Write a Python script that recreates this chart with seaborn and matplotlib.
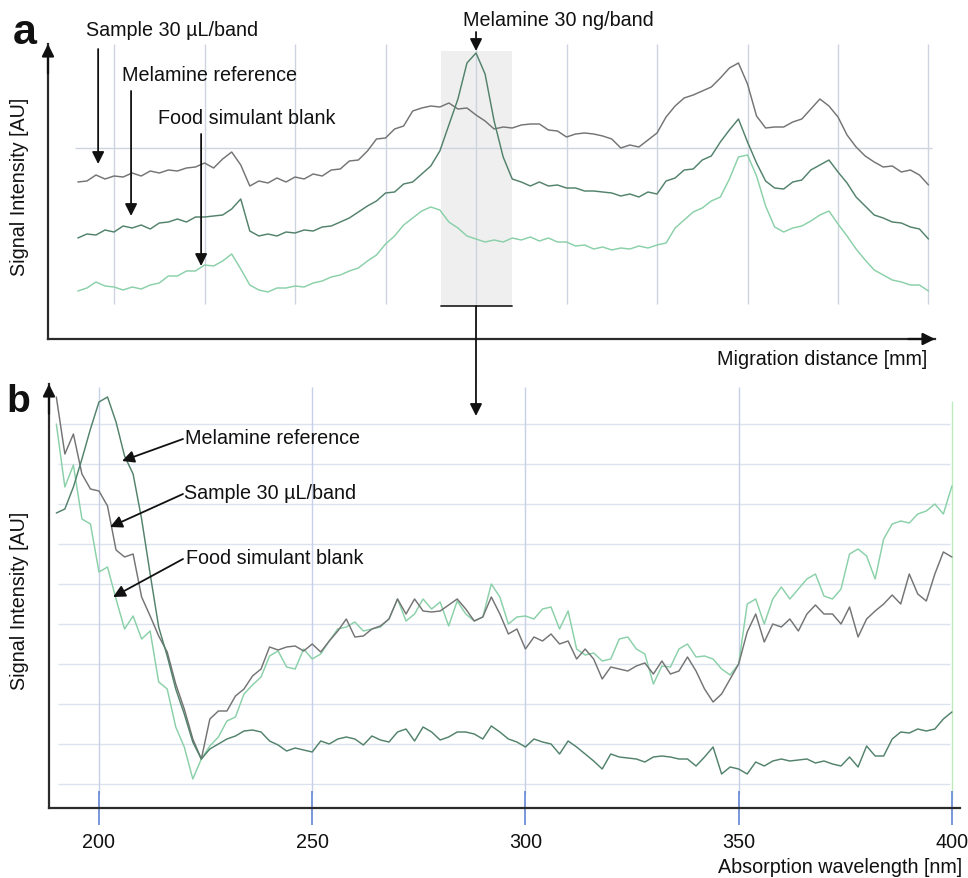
import numpy as np
import pandas as pd
import matplotlib
matplotlib.use("Agg")
import matplotlib.pyplot as plt
import seaborn as sns
from matplotlib.patches import ConnectionPatch

# ---------------- Panel a: densitograms (migration distance, mm) ----------------
migration_mm = np.arange(8.0, 55.01, 0.5)

sample_a = [1.57, 1.58, 1.64, 1.60, 1.63, 1.62, 1.66, 1.63, 1.68, 1.66,
            1.69, 1.68, 1.71, 1.72, 1.76, 1.71, 1.80, 1.87, 1.74, 1.53,
            1.58, 1.56, 1.61, 1.57, 1.62, 1.60, 1.65, 1.63, 1.69, 1.70,
            1.78, 1.79, 1.88, 2.00, 2.01, 2.10, 2.13, 2.28, 2.31, 2.33,
            2.32, 2.36, 2.30, 2.31, 2.24, 2.18, 2.10, 2.12, 2.11, 2.14,
            2.15, 2.15, 2.09, 2.08, 2.02, 2.05, 2.06, 2.05, 2.03, 2.00,
            1.91, 1.94, 1.92, 1.99, 2.06, 2.22, 2.33, 2.41, 2.44, 2.48,
            2.52, 2.61, 2.71, 2.76, 2.55, 2.23, 2.11, 2.12, 2.12, 2.17,
            2.20, 2.30, 2.40, 2.33, 2.22, 2.04, 1.92, 1.83, 1.77, 1.72,
            1.73, 1.67, 1.69, 1.64, 1.54]

melamine_a = [1.01, 1.05, 1.04, 1.09, 1.07, 1.13, 1.11, 1.14, 1.10, 1.16,
              1.17, 1.20, 1.17, 1.22, 1.22, 1.23, 1.24, 1.30, 1.40, 1.08,
              1.03, 1.05, 1.03, 1.07, 1.06, 1.09, 1.08, 1.12, 1.13, 1.17,
              1.21, 1.27, 1.33, 1.38, 1.46, 1.47, 1.55, 1.57, 1.65, 1.73,
              1.88, 2.14, 2.40, 2.76, 2.86, 2.65, 2.18, 1.82, 1.60, 1.57,
              1.53, 1.57, 1.53, 1.54, 1.51, 1.51, 1.48, 1.48, 1.47, 1.46,
              1.43, 1.45, 1.42, 1.47, 1.45, 1.58, 1.61, 1.69, 1.70, 1.79,
              1.83, 1.97, 2.09, 2.20, 1.97, 1.76, 1.58, 1.51, 1.50, 1.57,
              1.59, 1.69, 1.74, 1.79, 1.67, 1.56, 1.42, 1.33, 1.24, 1.21,
              1.17, 1.16, 1.12, 1.10, 1.00]

blank_a = [0.48, 0.51, 0.57, 0.53, 0.52, 0.49, 0.52, 0.50, 0.54, 0.56,
           0.63, 0.63, 0.68, 0.68, 0.74, 0.73, 0.78, 0.85, 0.70, 0.54,
           0.49, 0.47, 0.51, 0.51, 0.53, 0.52, 0.56, 0.58, 0.62, 0.64,
           0.68, 0.71, 0.78, 0.84, 0.95, 1.03, 1.14, 1.21, 1.28, 1.32,
           1.29, 1.17, 1.11, 1.03, 1.00, 0.97, 0.99, 0.97, 1.01, 0.99,
           1.02, 0.98, 1.01, 0.97, 0.97, 0.93, 0.94, 0.90, 0.92, 0.89,
           0.91, 0.90, 0.93, 0.91, 0.94, 0.96, 1.11, 1.19, 1.27, 1.31,
           1.38, 1.42, 1.60, 1.82, 1.84, 1.63, 1.33, 1.12, 1.07, 1.11,
           1.13, 1.18, 1.24, 1.28, 1.15, 1.03, 0.90, 0.79, 0.69, 0.64,
           0.59, 0.57, 0.54, 0.54, 0.48]

grid_a_mm = [10, 15, 20, 25, 30, 35, 40, 45, 50, 55]

# ---------------- Panel b: UV spectra (absorption wavelength, nm) ----------------
wavelength_nm = np.arange(190, 401, 2)

melamine_b = [311, 315, 337, 365, 395, 422, 427, 402, 368, 350,
              305, 250, 197, 168, 135, 110, 82, 65, 75, 80,
              85, 88, 93, 94, 92, 83, 79, 73, 76, 74,
              72, 83, 80, 85, 87, 85, 79, 88, 84, 82,
              92, 95, 83, 97, 92, 84, 87, 92, 92, 90,
              85, 98, 92, 85, 82, 77, 85, 82, 80, 70,
              83, 77, 70, 63, 55, 70, 67, 66, 65, 62,
              67, 68, 67, 65, 65, 58, 67, 77, 50, 57,
              55, 50, 62, 58, 63, 65, 63, 64, 65, 61,
              63, 60, 58, 67, 57, 78, 68, 68, 85, 92,
              91, 95, 93, 95, 105, 112]

sample_b = [427, 370, 390, 350, 335, 333, 318, 274, 267, 270,
            227, 208, 188, 172, 140, 115, 85, 65, 105, 113,
            113, 128, 135, 148, 155, 177, 174, 177, 178, 173,
            180, 172, 183, 193, 205, 187, 188, 195, 198, 205,
            225, 210, 225, 213, 212, 213, 219, 225, 215, 203,
            207, 227, 210, 190, 195, 175, 187, 183, 190, 180,
            183, 165, 175, 165, 145, 157, 155, 153, 158, 161,
            150, 163, 150, 153, 167, 153, 135, 122, 130, 145,
            160, 192, 210, 182, 200, 197, 205, 193, 210, 219,
            210, 210, 200, 217, 187, 205, 213, 220, 229, 220,
            250, 230, 223, 250, 272, 267]

blank_b = [400, 337, 359, 305, 300, 252, 257, 225, 195, 208,
           185, 193, 142, 135, 97, 77, 45, 65, 78, 87,
           103, 107, 130, 139, 147, 168, 173, 157, 155, 175,
           165, 170, 183, 195, 197, 202, 193, 195, 197, 205,
           225, 203, 210, 225, 215, 222, 198, 223, 210, 203,
           207, 240, 227, 200, 207, 208, 205, 215, 217, 195,
           213, 175, 169, 171, 163, 165, 185, 187, 175, 170,
           140, 158, 157, 175, 180, 167, 168, 165, 155, 149,
           160, 220, 225, 200, 225, 237, 225, 235, 245, 250,
           228, 225, 235, 270, 275, 268, 245, 285, 300, 303,
           301, 310, 313, 320, 310, 338]

grid_b_nm = [200, 250, 300, 350]
grid_b_levels = [40, 80, 120, 160, 200, 240, 280, 320, 360, 400]
tick_b_nm = [200, 250, 300, 350, 400]

trace_names = ["Sample 30 µL/band", "Melamine reference", "Food simulant blank"]
palette = {"Sample 30 µL/band": "#747474",
           "Melamine reference": "#52826c",
           "Food simulant blank": "#8ad0a8"}

df_a = pd.concat([
    pd.DataFrame({"mm": migration_mm, "AU": sample_a, "trace": trace_names[0]}),
    pd.DataFrame({"mm": migration_mm, "AU": melamine_a, "trace": trace_names[1]}),
    pd.DataFrame({"mm": migration_mm, "AU": blank_a, "trace": trace_names[2]}),
], ignore_index=True)

df_b = pd.concat([
    pd.DataFrame({"nm": wavelength_nm, "AU": blank_b, "trace": trace_names[2]}),
    pd.DataFrame({"nm": wavelength_nm, "AU": sample_b, "trace": trace_names[0]}),
    pd.DataFrame({"nm": wavelength_nm, "AU": melamine_b, "trace": trace_names[1]}),
], ignore_index=True)

# ---------------- Figure ----------------
sns.set_style("white")
plt.rcParams["font.family"] = ["Liberation Sans", "DejaVu Sans"]
plt.rcParams["text.color"] = "#111111"
FS = 14.2
W, H = 968, 879
fig = plt.figure(figsize=(W / 100, H / 100), dpi=100)


def box(left, top, right, bottom):
    return [left / W, 1 - bottom / H, (right - left) / W, (bottom - top) / H]


ax_a = fig.add_axes(box(48, 45, 935, 340))
ax_b = fig.add_axes(box(49, 385, 960, 809))

axis_col = "#2b2b2b"
for ax in (ax_a, ax_b):
    ax.set_facecolor("white")
    for s in ("top", "right"):
        ax.spines[s].set_visible(False)
    for s in ("left", "bottom"):
        ax.spines[s].set_color(axis_col)
        ax.spines[s].set_linewidth(1.6)
    ax.set_yticks([])
    ax.set_xlabel("")
    ax.set_ylabel("")

# ---- panel a ----
ax_a.set_xlim(6.35, 55.36)
ax_a.set_ylim(0, 2.95)
ax_a.set_xticks([])
ax_a.fill_between([28.05, 32.0], 0.33, 2.88, color="#efefef", zorder=0.3, lw=0)
ax_a.vlines(grid_a_mm, 0.35, 2.95, color="#cdd4df", lw=1.0, zorder=0.5)
ax_a.hlines(1.91, 7.85, 55.2, color="#cdd4df", lw=1.0, zorder=0.5)
ax_a.plot([28.05, 32.0], [0.33, 0.33], color=axis_col, lw=1.3, zorder=2)

sns.lineplot(data=df_a, x="mm", y="AU", hue="trace", palette=palette,
             estimator=None, sort=False, legend=False, lw=1.05, ax=ax_a)
ax_a.set_xlabel("")
ax_a.set_ylabel("")

arrow_kw = dict(arrowstyle="-|>", color="#111111", lw=1.3, mutation_scale=18,
                shrinkA=0, shrinkB=0)
ax_a.annotate("", xy=(0, 1.0), xytext=(0, 0.9), xycoords="axes fraction",
              arrowprops=dict(arrow_kw, lw=1.6))
ax_a.annotate("", xy=(1.0, 0), xytext=(0.97, 0), xycoords="axes fraction",
              arrowprops=dict(arrow_kw, lw=1.6))

ax_a.text(8.45, 3.10, "Sample 30 µL/band", fontsize=FS, va="center", ha="left")
ax_a.text(10.44, 2.65, "Melamine reference", fontsize=FS, va="center", ha="left")
ax_a.text(12.43, 2.22, "Food simulant blank", fontsize=FS, va="center", ha="left")
ax_a.text(29.28, 3.20, "Melamine 30 ng/band", fontsize=FS, va="center", ha="left")

ax_a.annotate("", xy=(9.12, 1.75), xytext=(9.12, 2.90), arrowprops=arrow_kw,
              annotation_clip=False)
ax_a.annotate("", xy=(10.94, 1.23), xytext=(10.94, 2.48), arrowprops=arrow_kw,
              annotation_clip=False)
ax_a.annotate("", xy=(14.81, 0.73), xytext=(14.81, 2.05), arrowprops=arrow_kw,
              annotation_clip=False)
ax_a.annotate("", xy=(30.0, 2.88), xytext=(30.0, 3.07), arrowprops=arrow_kw,
              annotation_clip=False)

# ---- panel b ----
ax_b.set_xlim(188.28, 401.9)
ax_b.set_ylim(16, 440)
ax_b.hlines(grid_b_levels, 190.4, 399.6, color="#dde3ee", lw=1.0, zorder=0.5)
ax_b.vlines(grid_b_nm, 30, 437, color="#c6d0e8", lw=1.0, zorder=0.5)
ax_b.vlines([400], 25, 423, color="#bdebbd", lw=1.0, zorder=0.5)

sns.lineplot(data=df_b, x="nm", y="AU", hue="trace", palette=palette,
             estimator=None, sort=False, legend=False, lw=1.05, ax=ax_b)
ax_b.set_xlabel("")
ax_b.set_ylabel("")
ax_b.set_xticks(tick_b_nm)
ax_b.set_xticklabels([str(t) for t in tick_b_nm])
ax_b.tick_params(axis="x", which="major", bottom=True, direction="inout",
                 length=25, width=1.3, color="#6d8fd8", labelsize=FS, pad=5,
                 labelcolor="#111111")
ax_b.annotate("", xy=(0, 1.0), xytext=(0, 0.93), xycoords="axes fraction",
              arrowprops=dict(arrow_kw, lw=1.6))

ax_b.annotate("", xy=(205.4, 363), xytext=(219.7, 385), arrowprops=arrow_kw)
ax_b.text(220.2, 387, "Melamine reference", fontsize=FS, va="center", ha="left")
ax_b.annotate("", xy=(202.6, 297), xytext=(219.7, 330), arrowprops=arrow_kw)
ax_b.text(219.9, 331, "Sample 30 µL/band", fontsize=FS, va="center", ha="left")
ax_b.annotate("", xy=(203.3, 227), xytext=(219.7, 265), arrowprops=arrow_kw)
ax_b.text(220.4, 267, "Food simulant blank", fontsize=FS, va="center", ha="left")

# connector from the highlighted band (a) to the spectra (b)
con = ConnectionPatch(xyA=(30.0, 0.33), coordsA="data", axesA=ax_a,
                      xyB=(288.4, 408), coordsB="data", axesB=ax_b,
                      arrowstyle="-|>", color="#111111", lw=1.3,
                      mutation_scale=18, shrinkA=0, shrinkB=0)
fig.add_artist(con)

# ---- figure-level labels ----
fig.text(927 / W, 1 - 360 / H, "Migration distance [mm]", fontsize=FS,
         ha="right", va="center")
fig.text(962 / W, 1 - 868 / H, "Absorption wavelength [nm]", fontsize=FS,
         ha="right", va="center")
fig.text(20 / W, 1 - 187 / H, "Signal Intensity [AU]", fontsize=FS,
         rotation=90, ha="center", va="center")
fig.text(20 / W, 1 - 601 / H, "Signal Intensity [AU]", fontsize=FS,
         rotation=90, ha="center", va="center")
fig.text(13 / W, 1 - 44 / H, "a", fontsize=31, fontweight="bold",
         ha="left", va="baseline")
fig.text(6 / W, 1 - 412 / H, "b", fontsize=28, fontweight="bold",
         ha="left", va="baseline")

fig.savefig("out.png", dpi=100)
